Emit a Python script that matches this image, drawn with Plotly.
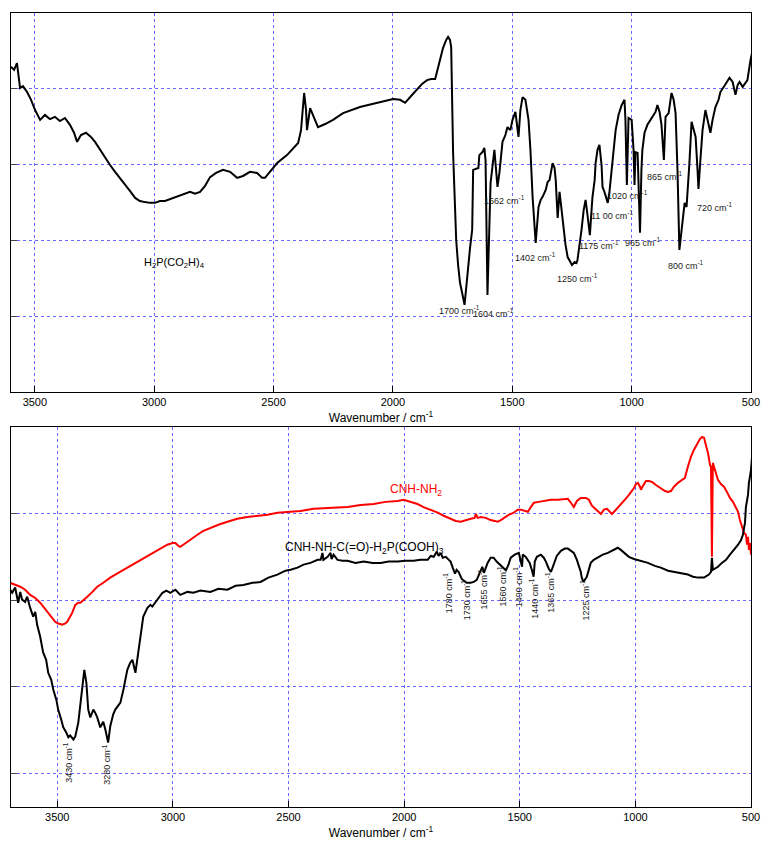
import plotly.graph_objects as go

FONT = "Liberation Sans, Arial, sans-serif"
GRID = "rgb(105,105,255)"

# ---- Upper panel: H2P(CO2H)4, (wavenumber, transmittance) ----
acid_spectrum = [
    (3600, 85.8), (3587, 85.0), (3575, 86.8), (3562, 80.2), (3550, 80.7), (3533, 79.2),
    (3516, 77.1), (3499, 74.4), (3478, 71.8), (3458, 73.1), (3437, 72.0), (3416, 72.6),
    (3395, 71.5), (3374, 72.3), (3353, 70.5), (3336, 68.4), (3323, 66.0), (3307, 67.8),
    (3286, 68.4), (3265, 67.3), (3248, 66.0), (3227, 63.9), (3206, 61.8), (3185, 59.9),
    (3164, 58.1), (3143, 56.5), (3122, 54.6), (3101, 53.0), (3080, 51.2), (3060, 50.4),
    (3039, 50.1), (3018, 49.9), (2997, 49.9), (2976, 50.4), (2955, 50.4), (2934, 50.9),
    (2913, 51.5), (2892, 52.0), (2871, 52.5), (2850, 52.8), (2829, 52.3), (2808, 52.8),
    (2787, 54.4), (2766, 56.7), (2741, 57.8), (2712, 58.6), (2682, 58.1), (2653, 56.5),
    (2628, 57.0), (2599, 58.1), (2569, 57.8), (2548, 56.5), (2536, 56.5), (2511, 58.3),
    (2485, 60.4), (2444, 62.5), (2397, 65.7), (2385, 69.1), (2372, 78.9), (2364, 74.4),
    (2360, 69.1), (2347, 74.9), (2330, 72.3), (2314, 69.9), (2284, 70.7), (2251, 71.8),
    (2209, 73.6), (2171, 74.4), (2138, 75.2), (2104, 75.7), (2066, 76.3), (2033, 76.8),
    (1999, 77.3), (1970, 77.1), (1949, 76.3), (1924, 78.1), (1899, 79.7), (1878, 81.3),
    (1857, 82.3), (1840, 82.6), (1823, 82.6), (1811, 85.5), (1802, 87.6), (1790, 90.8),
    (1777, 92.9), (1769, 93.7), (1761, 92.9), (1756, 91.0), (1748, 63.1), (1740, 45.4),
    (1735, 40.1), (1727, 33.5), (1719, 28.8), (1710, 26.1), (1700, 23.0), (1694, 26.9),
    (1685, 34.0), (1677, 38.0), (1668, 42.8), (1664, 58.6), (1642, 59.1), (1638, 62.5),
    (1625, 63.3), (1617, 64.4), (1612, 61.2), (1604, 25.6), (1591, 55.2), (1583, 59.9),
    (1575, 63.9), (1562, 54.1), (1554, 57.8), (1541, 66.0), (1529, 67.8), (1520, 69.9),
    (1508, 69.1), (1499, 71.8), (1487, 73.9), (1474, 67.3), (1466, 74.4), (1457, 77.8),
    (1445, 77.1), (1432, 71.8), (1424, 63.9), (1415, 51.5), (1402, 39.3), (1390, 48.8),
    (1381, 50.7), (1373, 51.5), (1360, 53.3), (1352, 55.4), (1344, 55.9), (1331, 60.4),
    (1323, 59.1), (1318, 55.9), (1310, 45.9), (1302, 52.8), (1289, 44.6), (1277, 38.8),
    (1268, 35.6), (1256, 34.0), (1250, 33.5), (1239, 34.3), (1231, 34.0), (1227, 34.8),
    (1218, 38.8), (1210, 42.8), (1201, 48.0), (1193, 50.7), (1185, 46.7), (1175, 41.4),
    (1168, 48.0), (1164, 51.5), (1155, 55.9), (1151, 60.4), (1143, 63.9), (1135, 65.2),
    (1126, 59.9), (1122, 54.1), (1114, 52.8), (1100, 49.9), (1093, 52.8), (1088, 55.9),
    (1076, 63.9), (1067, 69.1), (1055, 73.1), (1042, 75.7), (1030, 77.1), (1026, 71.8),
    (1020, 54.6), (1013, 72.3), (1000, 71.8), (992, 63.9), (988, 54.6), (984, 63.3),
    (975, 63.1), (965, 42.0), (959, 58.6), (955, 63.9), (946, 68.4), (934, 70.5),
    (921, 71.8), (912, 72.6), (900, 73.9), (892, 75.7), (883, 73.9), (875, 70.5),
    (865, 61.2), (858, 72.6), (845, 73.6), (833, 78.9), (824, 77.1), (816, 73.6),
    (808, 58.6), (800, 37.5), (791, 42.8), (778, 49.9), (770, 48.8), (762, 55.9),
    (758, 60.4), (749, 71.3), (741, 69.7), (732, 67.3), (724, 58.6), (720, 53.6),
    (712, 61.2), (703, 69.1), (691, 74.4), (678, 70.5), (670, 68.4), (661, 71.8),
    (649, 75.2), (636, 77.1), (628, 79.2), (611, 80.8), (590, 82.9), (577, 81.8),
    (565, 78.4), (556, 81.0), (548, 81.8), (535, 80.5), (523, 81.5), (515, 82.3),
    (502, 87.6), (490, 91.0),
]

acid_name = "H<sub>2</sub>P(CO<sub>2</sub>H)<sub>4</sub>"
acid_peaks = ["1700", "1604", "1562", "1402", "1250", "1175", "11 00", "1020",
              "965", "865", "800", "720"]

# ---- Lower panel: hydrazide product (black) and CNH-NH2 (red) ----
product_spectrum = [
    (3703, 62.4), (3695, 61.7), (3682, 62.9), (3673, 60.1), (3669, 59.4), (3660, 61.9),
    (3652, 60.1), (3639, 59.6), (3630, 60.8), (3617, 58.2), (3604, 56.2), (3595, 57.3),
    (3587, 54.3), (3574, 51.6), (3561, 47.9), (3548, 46.2), (3539, 43.2), (3526, 41.6),
    (3517, 39.3), (3504, 37.0), (3496, 34.7), (3483, 32.4), (3474, 30.6), (3461, 29.4),
    (3452, 28.3), (3444, 28.7), (3430, 27.8), (3422, 28.5), (3409, 31.7), (3400, 35.9),
    (3392, 39.3), (3383, 43.9), (3374, 40.9), (3366, 34.7), (3357, 32.9), (3344, 34.7),
    (3336, 34.0), (3327, 32.9), (3314, 30.6), (3301, 31.9), (3292, 30.1), (3280, 27.1),
    (3271, 30.8), (3258, 33.6), (3249, 34.7), (3236, 35.6), (3227, 36.3), (3214, 39.3),
    (3197, 43.9), (3184, 45.6), (3175, 46.2), (3162, 43.2), (3149, 48.6), (3141, 50.9),
    (3128, 56.2), (3110, 58.2), (3097, 58.9), (3089, 58.5), (3067, 60.1), (3045, 61.7),
    (3028, 62.2), (3011, 61.7), (2989, 62.4), (2968, 61.2), (2937, 61.9), (2911, 61.7),
    (2881, 62.2), (2838, 61.9), (2803, 62.6), (2764, 62.4), (2729, 63.3), (2695, 63.5),
    (2656, 64.0), (2621, 64.2), (2587, 65.2), (2548, 65.9), (2513, 66.8), (2491, 67.0),
    (2461, 67.5), (2435, 68.2), (2405, 68.6), (2374, 69.3), (2361, 69.3), (2353, 70.9),
    (2349, 69.3), (2331, 70.0), (2318, 70.9), (2314, 69.5), (2305, 70.5), (2288, 69.3),
    (2266, 69.1), (2245, 69.1), (2210, 68.6), (2175, 68.9), (2136, 68.6), (2102, 68.6),
    (2067, 68.9), (2028, 68.9), (1994, 69.1), (1959, 69.1), (1929, 69.3), (1898, 69.3),
    (1885, 70.2), (1872, 70.0), (1859, 71.2), (1851, 70.2), (1842, 70.9), (1833, 69.8),
    (1820, 70.0), (1807, 69.3), (1799, 68.9), (1790, 67.5), (1780, 66.1), (1773, 67.0),
    (1764, 66.5), (1751, 64.9), (1738, 64.2), (1730, 64.0), (1712, 64.0), (1699, 64.2),
    (1686, 64.7), (1673, 66.3), (1662, 67.7), (1655, 66.3), (1639, 68.6), (1626, 69.8),
    (1613, 69.8), (1600, 68.9), (1585, 68.2), (1570, 67.3), (1560, 66.9), (1550, 68.0),
    (1539, 69.8), (1522, 70.5), (1504, 70.9), (1490, 67.7), (1487, 70.5), (1474, 70.0),
    (1465, 69.3), (1457, 68.6), (1448, 67.0), (1440, 65.4), (1435, 68.9), (1426, 70.0),
    (1409, 70.5), (1396, 69.8), (1387, 68.9), (1374, 67.2), (1365, 66.5), (1353, 68.2),
    (1340, 70.2), (1322, 71.4), (1305, 71.9), (1292, 71.9), (1279, 71.4), (1266, 70.9),
    (1253, 69.3), (1245, 68.2), (1236, 66.5), (1232, 65.2), (1225, 64.2), (1210, 65.4),
    (1201, 67.0), (1193, 68.6), (1180, 69.3), (1162, 69.8), (1141, 70.5), (1119, 70.9),
    (1102, 71.4), (1089, 71.6), (1076, 72.1), (1063, 71.6), (1045, 70.7), (1028, 70.0),
    (1006, 69.5), (976, 69.1), (946, 68.6), (916, 67.9), (890, 67.5), (859, 66.8),
    (833, 66.5), (803, 66.1), (773, 65.9), (751, 65.4), (729, 65.2), (703, 65.2),
    (682, 65.9), (673, 66.5), (669, 69.8), (665, 67.0), (643, 67.7), (626, 68.6),
    (608, 69.3), (591, 70.5), (574, 71.6), (556, 72.8), (543, 73.9), (535, 75.1),
    (526, 77.9), (522, 81.5), (513, 84.3), (509, 87.1), (500, 90.1), (496, 92.8),
]

hydrazine_spectrum = [
    (3703, 64.0), (3682, 63.5), (3660, 63.1), (3639, 62.4), (3617, 61.2), (3595, 60.5),
    (3574, 59.4), (3556, 58.2), (3539, 57.1), (3522, 55.9), (3509, 55.0), (3496, 54.6),
    (3478, 54.3), (3465, 54.6), (3457, 55.0), (3444, 56.2), (3435, 57.1), (3422, 58.9),
    (3409, 59.4), (3400, 59.4), (3383, 60.3), (3370, 60.8), (3348, 61.9), (3327, 63.1),
    (3301, 64.0), (3271, 65.2), (3236, 66.3), (3197, 67.5), (3171, 68.4), (3141, 69.3),
    (3110, 70.2), (3084, 70.9), (3054, 71.9), (3024, 72.8), (3002, 73.2), (2989, 73.2),
    (2976, 72.5), (2968, 72.3), (2955, 72.8), (2937, 73.5), (2916, 74.4), (2894, 75.1),
    (2868, 76.0), (2838, 76.7), (2803, 77.4), (2764, 78.1), (2721, 78.8), (2678, 79.2),
    (2634, 79.5), (2591, 79.7), (2548, 80.2), (2504, 80.4), (2448, 80.6), (2392, 81.1),
    (2340, 81.3), (2288, 81.5), (2245, 81.5), (2188, 82.0), (2132, 82.2), (2080, 82.7),
    (2028, 82.9), (2002, 83.2), (1972, 82.7), (1942, 82.2), (1916, 81.5), (1885, 80.9),
    (1855, 80.2), (1829, 79.5), (1799, 78.8), (1777, 78.3), (1755, 78.1), (1734, 78.5),
    (1712, 78.8), (1695, 79.0), (1690, 79.9), (1682, 79.0), (1669, 79.2), (1647, 79.0),
    (1626, 78.5), (1608, 78.3), (1595, 78.1), (1582, 78.5), (1569, 79.0), (1548, 79.7),
    (1526, 80.2), (1509, 80.9), (1496, 80.9), (1478, 80.6), (1465, 80.4), (1452, 81.5),
    (1439, 82.5), (1418, 82.7), (1396, 82.9), (1366, 83.2), (1335, 83.2), (1310, 83.4),
    (1292, 83.4), (1279, 82.5), (1266, 81.5), (1253, 82.9), (1236, 83.6), (1214, 83.6),
    (1201, 83.2), (1188, 81.8), (1175, 81.1), (1162, 80.6), (1149, 79.9), (1136, 80.9),
    (1123, 81.1), (1110, 80.4), (1102, 79.9), (1089, 80.6), (1076, 81.3), (1063, 82.0),
    (1045, 83.2), (1028, 84.3), (1015, 85.2), (1006, 85.9), (998, 86.8), (989, 87.1),
    (980, 86.2), (976, 85.5), (967, 86.4), (954, 87.5), (941, 87.5), (928, 87.3),
    (911, 86.6), (890, 85.9), (872, 85.2), (859, 85.0), (846, 85.2), (833, 86.2),
    (816, 87.1), (798, 87.8), (786, 88.2), (773, 90.8), (760, 93.1), (747, 94.7),
    (734, 96.1), (721, 97.2), (712, 97.7), (703, 97.5), (695, 95.8), (686, 94.0),
    (677, 91.2), (673, 90.8), (669, 70.0), (665, 91.7), (656, 90.1), (643, 87.8),
    (630, 86.8), (617, 86.2), (604, 85.0), (591, 83.6), (578, 82.7), (565, 81.5),
    (556, 80.4), (548, 78.5), (539, 76.7), (530, 75.5), (522, 75.1), (517, 72.8),
    (513, 74.6), (509, 71.6), (504, 73.2), (500, 70.5), (496, 70.9),
]

product_name = "CNH-NH-C(=O)-H<sub>2</sub>P(COOH)<sub>3</sub>"
hydrazine_name = "CNH-NH<sub>2</sub>"
product_peaks = ["3430", "3280", "1780", "1730", "1655", "1560", "1490", "1440",
                 "1365", "1225"]

tick_values = [3500, 3000, 2500, 2000, 1500, 1000, 500]
tick_text = [str(v) for v in tick_values]

# label anchor points (wavenumber, transmittance)
acid_peak_pos = [(1722, 21.6), (1577, 20.8), (1534, 50.7), (1404, 35.6), (1228, 30.1),
                 (1136, 38.8), (1082, 46.7), (1019, 52.0), (952, 39.6), (860, 57.0),
                 (772, 33.5), (650, 48.8)]
product_peak_pos = [(3452, 22.5), (3288, 22.0), (1812, 61.7), (1734, 60.1), (1660, 62.6),
                    (1578, 63.3), (1509, 63.1), (1439, 60.5), (1370, 61.9), (1219, 60.1)]


def unzip(pairs):
    return [p[0] for p in pairs], [p[1] for p in pairs]


fig = go.Figure()

x, y = unzip(acid_spectrum)
fig.add_trace(go.Scatter(x=x, y=y, mode="lines", xaxis="x", yaxis="y",
                         line=dict(color="black", width=2), showlegend=False))

x, y = unzip(hydrazine_spectrum)
fig.add_trace(go.Scatter(x=x, y=y, mode="lines", xaxis="x2", yaxis="y2",
                         line=dict(color="#ff0000", width=2), showlegend=False))

x, y = unzip(product_spectrum)
fig.add_trace(go.Scatter(x=x, y=y, mode="lines", xaxis="x2", yaxis="y2",
                         line=dict(color="black", width=2), showlegend=False))

annotations = []
annotations.append(dict(x=2917, y=34.0, xref="x", yref="y", text=acid_name,
                        showarrow=False, font=dict(family=FONT, size=11, color="black")))
for label, (px, py) in zip(acid_peaks, acid_peak_pos):
    annotations.append(dict(x=px, y=py, xref="x", yref="y",
                            text=f"{label} cm<sup>-1</sup>", showarrow=False,
                            font=dict(family=FONT, size=9, color="#222")))

annotations.append(dict(x=1950, y=85.5, xref="x2", yref="y2", text=hydrazine_name,
                        showarrow=False, font=dict(family=FONT, size=12, color="#ff0000")))
annotations.append(dict(x=2171, y=72.1, xref="x2", yref="y2", text=product_name,
                        showarrow=False, font=dict(family=FONT, size=12, color="black")))
for label, (px, py) in zip(product_peaks, product_peak_pos):
    annotations.append(dict(x=px, y=py, xref="x2", yref="y2",
                            text=f"{label} cm<sup>-1</sup>", showarrow=False, textangle=-90,
                            font=dict(family=FONT, size=9, color="#222")))

common_x = dict(
    tickvals=tick_values, ticktext=tick_text, showgrid=True, gridcolor=GRID,
    griddash="dot", gridwidth=1, showline=True, linecolor="black", linewidth=1,
    mirror=True, ticks="inside", ticklen=6, tickcolor="black", zeroline=False,
    tickfont=dict(family=FONT, size=11, color="black"), automargin=False,
    title=dict(text="Wavenumber / cm<sup>-1</sup>", standoff=6,
               font=dict(family=FONT, size=12, color="black")),
)
common_y = dict(
    tickvals=[20, 40, 60, 80], showticklabels=False, showgrid=True, gridcolor=GRID,
    griddash="dot", gridwidth=1, showline=True, linecolor="black", linewidth=1,
    mirror=True, ticks="inside", ticklen=6, tickcolor="#444", zeroline=False,
    automargin=False,
)

fig.update_layout(
    width=762, height=843,
    margin=dict(l=11, r=11, t=13, b=36),
    paper_bgcolor="white", plot_bgcolor="white",
    xaxis=dict(domain=[0, 1], anchor="y", range=[3600, 500], **common_x),
    yaxis=dict(domain=[0.5227, 1], anchor="x", range=[0, 100], **common_y),
    xaxis2=dict(domain=[0, 1], anchor="y2", range=[3700, 500], **common_x),
    yaxis2=dict(domain=[0, 0.4786], anchor="x2", range=[12.2, 100], **common_y),
    annotations=annotations,
    showlegend=False,
)

fig.write_html("out.html")
